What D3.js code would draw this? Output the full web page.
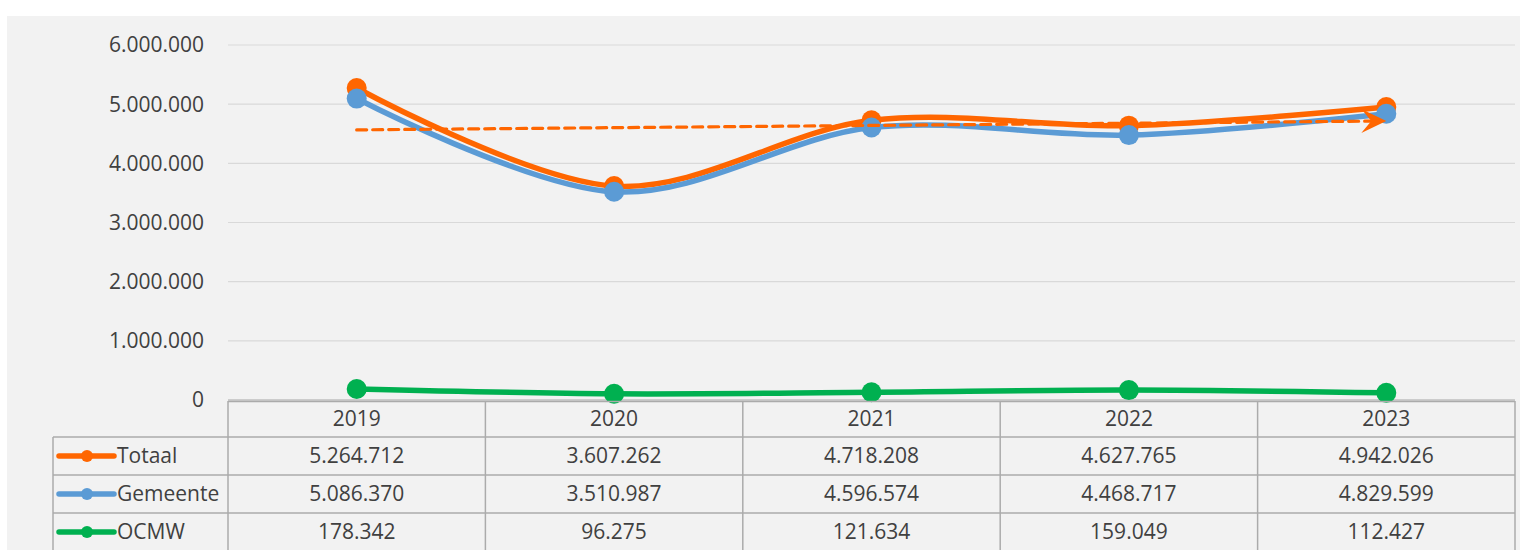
<!DOCTYPE html>
<html>
<head>
<meta charset="utf-8">
<script src="https://cdn.jsdelivr.net/npm/d3@7"></script>
<style>
  html, body { margin: 0; padding: 0; background: #ffffff; }
  svg { display: block; }
  text { font-family: "Open Sans", "Noto Sans", sans-serif; fill: #404040; }
</style>
</head>
<body>
<svg id="chart" width="1520" height="550"></svg>
<script>
// ---- data ----
const years = ["2019", "2020", "2021", "2022", "2023"];
const totaal = [5264712, 3607262, 4718208, 4627765, 4942026];
const gemeente = [5086370, 3510987, 4596574, 4468717, 4829599];
const ocmw = [178342, 96275, 121634, 159049, 112427];
const seriesNames = ["Totaal", "Gemeente", "OCMW"];
const seriesColors = ["#ff6600", "#5b9bd5", "#00b050"];
const yTicks = [0, 1000000, 2000000, 3000000, 4000000, 5000000, 6000000];

const seriesValues = [totaal, gemeente, ocmw];
const FS = 21;

const nl = d3.formatLocale({ decimal: ",", thousands: ".", grouping: [3], currency: ["€", ""] });
const fmt = nl.format(",d");

const svg = d3.select("#chart");
const W = 1520, H = 550;

// background panel
svg.append("rect").attr("x", 7).attr("y", 16).attr("width", W - 7).attr("height", H - 16).attr("fill", "#f2f2f2");

const plotLeft = 228, plotRight = 1515;
const y = d3.scaleLinear().domain([0, 6000000]).range([399.5, 44.5]);
const x = d3.scaleBand().domain(years).range([plotLeft, plotRight]).padding(0);
const cx = d => x(d) + x.bandwidth() / 2;

// y axis with gridlines
const yAxis = d3.axisLeft(y).tickValues(yTicks).tickFormat(fmt)
  .tickSize(-(plotRight - plotLeft)).tickPadding(24);
const gy = svg.append("g").attr("transform", `translate(${plotLeft},0)`).call(yAxis);
gy.select(".domain").remove();
gy.selectAll(".tick line").attr("stroke", "#d9d9d9").attr("stroke-width", 1.2);
gy.selectAll(".tick").filter(d => d === 0).select("line").attr("stroke", "#a6a6a6");
gy.selectAll(".tick text").attr("font-size", FS).attr("fill", "#404040")
  .attr("font-family", "'Open Sans', sans-serif").attr("dy", "0.35em");

// ---- lines ----
const line = d3.line()
  .x((d, i) => cx(years[i]))
  .y(d => y(d))
  .curve(d3.curveCardinal.tension(0));

const gLines = svg.append("g");
seriesValues.forEach((vals, si) => {
  gLines.append("path").datum(vals)
    .attr("d", line)
    .attr("fill", "none")
    .attr("stroke", seriesColors[si])
    .attr("stroke-width", 5.5)
    .attr("stroke-linejoin", "round")
    .attr("stroke-linecap", "round");
  gLines.selectAll(null).data(vals).enter().append("circle")
    .attr("cx", (d, i) => cx(years[i]))
    .attr("cy", d => y(d))
    .attr("r", 10)
    .attr("fill", seriesColors[si]);
});

// ---- linear trendline of Totaal ----
const xs = totaal.map((d, i) => i);
const mx = d3.mean(xs), my = d3.mean(totaal);
const slope = d3.sum(xs.map((xi, i) => (xi - mx) * (totaal[i] - my))) / d3.sum(xs.map(xi => (xi - mx) ** 2));
const icpt = my - slope * mx;
const trend = [icpt, icpt + slope * (years.length - 1)];
const trendStart = [cx(years[0]), y(trend[0])];
const trendEnd = [cx(years[years.length - 1]), y(trend[1])];

svg.append("defs").append("marker")
  .attr("id", "arrow")
  .attr("viewBox", "-26 -13 28 26")
  .attr("refX", 0).attr("refY", 0)
  .attr("markerWidth", 28).attr("markerHeight", 26)
  .attr("markerUnits", "userSpaceOnUse")
  .attr("orient", "auto")
  .append("path")
  .attr("d", "M0,0 L-25,12 L-15,0 L-25,-12 Z")
  .attr("fill", seriesColors[0]);

svg.append("line")
  .attr("x1", trendStart[0]).attr("y1", trendStart[1])
  .attr("x2", trendEnd[0] - 14).attr("y2", trendEnd[1] - (trendEnd[1] - trendStart[1]) * 14 / (trendEnd[0] - trendStart[0]))
  .attr("stroke", seriesColors[0])
  .attr("stroke-width", 3.2)
  .attr("stroke-dasharray", "10,6")
  .attr("stroke-linecap", "round");
svg.append("line")
  .attr("x1", trendEnd[0] - 16).attr("y1", trendEnd[1])
  .attr("x2", trendEnd[0]).attr("y2", trendEnd[1])
  .attr("stroke", "none")
  .attr("marker-end", "url(#arrow)");

// ---- data table ----
const tableTop = 401, headerH = 36, rowH = 38, legendLeft = 53;
const border = "#ababab";
const gT = svg.append("g");
const rowY = i => tableTop + headerH + i * rowH;

// header year labels
gT.selectAll(".yr").data(years).enter().append("text")
  .attr("x", d => cx(d)).attr("y", tableTop + headerH / 2)
  .attr("dy", "0.35em").attr("text-anchor", "middle").attr("font-size", FS)
  .text(d => d);

// values
seriesValues.forEach((vals, si) => {
  gT.selectAll(null).data(vals).enter().append("text")
    .attr("x", (d, i) => cx(years[i])).attr("y", rowY(si) + rowH / 2)
    .attr("dy", "0.35em").attr("text-anchor", "middle").attr("font-size", FS)
    .text(d => fmt(d));
  // legend
  const ly = rowY(si) + rowH / 2;
  gT.append("line").attr("x1", 59).attr("x2", 114).attr("y1", ly).attr("y2", ly)
    .attr("stroke", seriesColors[si]).attr("stroke-width", 5.5).attr("stroke-linecap", "round");
  gT.append("circle").attr("cx", 87).attr("cy", ly).attr("r", 6).attr("fill", seriesColors[si]);
  gT.append("text").attr("x", 117).attr("y", ly).attr("dy", "0.35em").attr("font-size", FS)
    .text(seriesNames[si]);
});

// borders
const bottom = rowY(3) + 2;
gT.append("line").attr("x1", plotLeft).attr("x2", plotRight).attr("y1", tableTop + 0.5).attr("y2", tableTop + 0.5)
  .attr("stroke", border).attr("stroke-width", 1.5);
for (let i = 0; i < 3; i++) {
  gT.append("line").attr("x1", legendLeft).attr("x2", plotRight).attr("y1", rowY(i)).attr("y2", rowY(i))
    .attr("stroke", border).attr("stroke-width", 1.5);
}
const vx = years.map(d => x(d)).concat([plotRight]);
vx.forEach(v => {
  gT.append("line").attr("x1", v).attr("x2", v).attr("y1", tableTop).attr("y2", bottom)
    .attr("stroke", border).attr("stroke-width", 1.5);
});
gT.append("line").attr("x1", legendLeft).attr("x2", legendLeft).attr("y1", rowY(0)).attr("y2", bottom)
  .attr("stroke", border).attr("stroke-width", 1.5);
</script>
</body>
</html>
